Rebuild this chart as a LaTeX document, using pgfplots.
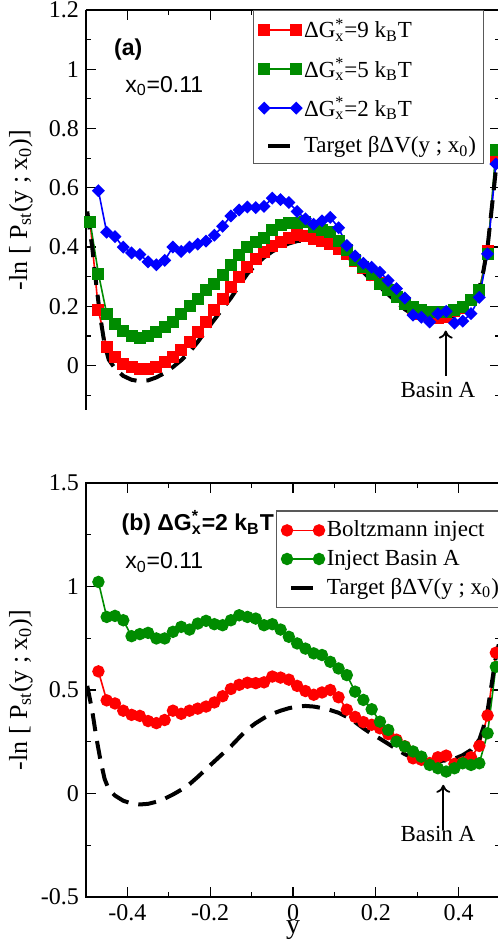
\documentclass[border=0pt]{standalone}
\usepackage{fontspec}
\setmainfont{Liberation Serif}
\setsansfont{Liberation Sans}
\usepackage{pgfplots}
\usepackage{pgfplotstable}
\pgfplotsset{compat=1.18}
\usetikzlibrary{arrows.meta}

\definecolor{cred}{RGB}{255,0,0}
\definecolor{cgreen}{RGB}{0,140,0}
\definecolor{cblue}{RGB}{0,0,255}

\newcommand{\Gx}{G\rlap{\textsuperscript{*}}\textsubscript{x}}

% panel (a), dG = 9 kT
\pgfplotstableread{
x y
-0.49 0.485
-0.47 0.186
-0.45 0.062
-0.43 0.028
-0.41 0.006
-0.39 -0.006
-0.37 -0.011
-0.35 -0.011
-0.33 -0.006
-0.31 0.011
-0.29 0.028
-0.27 0.053
-0.25 0.079
-0.23 0.113
-0.21 0.146
-0.19 0.186
-0.17 0.225
-0.15 0.265
-0.13 0.299
-0.11 0.332
-0.09 0.361
-0.07 0.383
-0.05 0.402
-0.03 0.417
-0.01 0.432
0.01 0.439
0.03 0.436
0.05 0.428
0.07 0.420
0.09 0.409
0.11 0.395
0.13 0.375
0.15 0.352
0.17 0.328
0.19 0.305
0.21 0.280
0.23 0.255
0.25 0.232
0.27 0.210
0.29 0.190
0.31 0.175
0.33 0.165
0.35 0.160
0.37 0.165
0.39 0.185
0.41 0.195
0.43 0.220
0.45 0.255
0.47 0.385
0.49 0.700
}\gnine

% panel (a), dG = 5 kT
\pgfplotstableread{
x y
-0.49 0.485
-0.47 0.310
-0.45 0.175
-0.43 0.141
-0.41 0.118
-0.39 0.100
-0.37 0.094
-0.35 0.100
-0.33 0.113
-0.31 0.130
-0.29 0.146
-0.27 0.175
-0.25 0.200
-0.23 0.225
-0.21 0.254
-0.19 0.276
-0.17 0.304
-0.15 0.338
-0.13 0.372
-0.11 0.400
-0.09 0.417
-0.07 0.432
-0.05 0.456
-0.03 0.473
-0.01 0.481
0.01 0.481
0.03 0.485
0.05 0.468
0.07 0.456
0.09 0.451
0.11 0.420
0.13 0.389
0.15 0.355
0.17 0.332
0.19 0.310
0.21 0.276
0.23 0.254
0.25 0.231
0.27 0.208
0.29 0.197
0.31 0.188
0.33 0.180
0.35 0.180
0.37 0.180
0.39 0.186
0.41 0.197
0.43 0.220
0.45 0.254
0.47 0.378
0.49 0.727
}\gfive

% dG = 2 kT, Boltzmann inject (same run in both panels)
\pgfplotstableread{
x y
-0.47 0.590
-0.45 0.450
-0.43 0.435
-0.41 0.400
-0.39 0.380
-0.37 0.375
-0.35 0.350
-0.33 0.340
-0.31 0.355
-0.29 0.400
-0.27 0.385
-0.25 0.400
-0.23 0.410
-0.21 0.420
-0.19 0.440
-0.17 0.470
-0.15 0.505
-0.13 0.525
-0.11 0.535
-0.09 0.533
-0.07 0.537
-0.05 0.565
-0.03 0.560
-0.01 0.550
0.01 0.520
0.03 0.495
0.05 0.477
0.07 0.488
0.09 0.500
0.11 0.465
0.13 0.405
0.15 0.370
0.17 0.345
0.19 0.332
0.21 0.315
0.23 0.287
0.25 0.260
0.27 0.228
0.29 0.170
0.31 0.163
0.33 0.147
0.35 0.175
0.37 0.183
0.39 0.143
0.41 0.150
0.43 0.175
0.45 0.230
0.47 0.377
0.49 0.680
}\gtwo

% panel (b), inject basin A
\pgfplotstableread{
x y
-0.47 1.022
-0.45 0.853
-0.43 0.858
-0.41 0.837
-0.39 0.760
-0.37 0.770
-0.35 0.776
-0.33 0.749
-0.31 0.749
-0.29 0.781
-0.27 0.805
-0.25 0.792
-0.23 0.821
-0.21 0.834
-0.19 0.818
-0.17 0.813
-0.15 0.837
-0.13 0.861
-0.11 0.853
-0.09 0.845
-0.07 0.813
-0.05 0.818
-0.03 0.792
-0.01 0.757
0.01 0.725
0.03 0.700
0.05 0.677
0.07 0.669
0.09 0.636
0.11 0.604
0.13 0.572
0.15 0.492
0.17 0.452
0.19 0.407
0.21 0.347
0.23 0.307
0.25 0.251
0.27 0.227
0.29 0.203
0.31 0.178
0.33 0.138
0.35 0.122
0.37 0.106
0.39 0.122
0.41 0.146
0.43 0.138
0.45 0.146
0.47 0.291
0.49 0.612
}\basina

% target beta dV(y; x0)
\pgfplotstableread{
x y
-0.497 0.52
-0.485 0.40
-0.475 0.27
-0.465 0.16
-0.455 0.07
-0.445 0.02
-0.43 -0.010
-0.41 -0.035
-0.39 -0.048
-0.37 -0.053
-0.35 -0.050
-0.33 -0.040
-0.31 -0.025
-0.29 -0.005
-0.27 0.018
-0.25 0.045
-0.23 0.080
-0.21 0.118
-0.19 0.155
-0.17 0.192
-0.15 0.228
-0.13 0.270
-0.11 0.310
-0.09 0.340
-0.07 0.365
-0.05 0.385
-0.03 0.400
-0.01 0.412
0.01 0.420
0.03 0.423
0.05 0.420
0.07 0.413
0.09 0.403
0.11 0.390
0.13 0.370
0.15 0.345
0.17 0.315
0.19 0.288
0.21 0.265
0.23 0.240
0.25 0.215
0.27 0.190
0.29 0.172
0.31 0.162
0.33 0.157
0.35 0.156
0.37 0.160
0.39 0.168
0.41 0.185
0.43 0.210
0.45 0.260
0.46 0.320
0.47 0.400
0.48 0.530
0.49 0.660
0.497 0.720
}\target

\pgfplotsset{
  panel/.style={
    scale only axis, width=207pt,
    xmin=-0.5, xmax=0.5,
    tick align=inside,
    major tick length=5pt, minor tick length=2.5pt,
    xtick={-0.4,-0.2,0,0.2,0.4},
    minor xtick={-0.3,-0.1,0.1,0.3},
    axis line style={line width=0.8pt},
    every tick/.style={black, line width=0.6pt},
    tick label style={font=\fontsize{12}{14}\selectfont},
    /pgf/number format/assume math mode=true,
    label style={font=\fontsize{13}{15}\selectfont},
    ylabel={-ln [ P\textsubscript{st}(y ; x\textsubscript{0})]},
    ylabel style={at={(axis description cs:-0.157,0.5)}, anchor=center},
    legend cell align=left,
    legend style={draw=black!65, line width=0.6pt,
      font=\fontsize{11.5}{13}\selectfont,
      inner xsep=2.5pt, inner ysep=2pt,
      nodes={inner xsep=1.2pt}},
    legend image code/.code={\draw[#1] plot coordinates {(0pt,0pt) (16pt,0pt)};},
  },
  sq/.style={line width=0.8pt, mark=square*, mark size=2.6pt, mark options={solid}},
  dia/.style={line width=0.8pt, mark=square*, mark size=1.9pt, mark options={solid, rotate=45}},
  dot/.style={line width=0.8pt, mark=*, mark size=2.7pt, mark options={solid}},
  tgt/.style={black, line width=2pt, dash pattern=on 9pt off 5pt, no marks,
    legend image code/.code={\draw[##1, solid] (2pt,0pt) -- (13pt,0pt);}},
}

\begin{document}
\begin{tikzpicture}
\path[use as bounding box] (0,0) rectangle (249pt,474pt);

\begin{axis}[panel,
  at={(43pt,269pt)}, anchor=south west, height=200pt,
  ymin=-0.15, ymax=1.2,
  axis x line*=top, axis y line*=box,
  x axis line style={-}, y axis line style={-},
  xticklabels={},
  ytick={0,0.2,...,1.2},
  minor ytick={-0.1,0.1,0.3,0.5,0.7,0.9,1.1},
  legend style={at={(axis cs:-0.096,1.2)}, anchor=north west,
    row sep=4.5pt},
]
\addplot[sq, color=cred] table {\gnine};
\addlegendentry{Δ\Gx=9 k\textsubscript{B}T}
\addplot[sq, color=cgreen] table {\gfive};
\addlegendentry{ Δ\Gx=5 k\textsubscript{B}T}
\addplot[dia, color=cblue] table {\gtwo};
\addlegendentry{ Δ\Gx=2 k\textsubscript{B}T}
\addplot[tgt] table {\target};
\addlegendentry{Target βΔV(y ; x\textsubscript{0})}

\node[font=\sffamily\bfseries\fontsize{11.5}{13}\selectfont] at (axis cs:-0.398,1.068) {(a)};
\node[font=\sffamily\fontsize{11.5}{13}\selectfont] at (axis cs:-0.311,0.943) {x\textsubscript{0}=0.11};
\node[font=\fontsize{11.5}{13}\selectfont] at (axis cs:0.35,-0.081) {Basin A};
\draw[-{To[length=4pt,width=7pt]}, line width=0.9pt] (axis cs:0.369,-0.034) -- (axis cs:0.369,0.118);
\end{axis}

\begin{axis}[panel,
  at={(43pt,25.5pt)}, anchor=south west, height=207pt,
  ymin=-0.5, ymax=1.5,
  ytick={-0.5,0,0.5,1,1.5},
  minor ytick={-0.25,0.25,0.75,1.25},
  xlabel={y},
  xlabel style={at={(axis description cs:0.5,-0.08)}, anchor=center,
    font=\fontsize{14}{16}\selectfont},
  legend style={at={(axis cs:-0.041,1.368)}, anchor=north west,
    inner ysep=3pt, row sep=1pt},
]
\addplot[dot, color=cred] table {\gtwo};
\addlegendentry{Boltzmann inject}
\addplot[dot, color=cgreen] table {\basina};
\addlegendentry{Inject Basin A}
\addplot[tgt] table {\target};
\addlegendentry{Target βΔV(y ; x\textsubscript{0})}

\node[anchor=base west, font=\sffamily\bfseries\fontsize{11.5}{13}\selectfont] at (axis cs:-0.431,1.271) {(b) Δ\Gx=2 k\textsubscript{B}T};
\node[font=\sffamily\fontsize{11.5}{13}\selectfont] at (axis cs:-0.311,1.117) {x\textsubscript{0}=0.11};
\node[font=\fontsize{11.5}{13}\selectfont] at (axis cs:0.35,-0.194) {Basin A};
\draw[-{To[length=4pt,width=7pt]}, line width=0.9pt] (axis cs:0.363,-0.175) -- (axis cs:0.363,0.042);
\end{axis}
\end{tikzpicture}
\end{document}
